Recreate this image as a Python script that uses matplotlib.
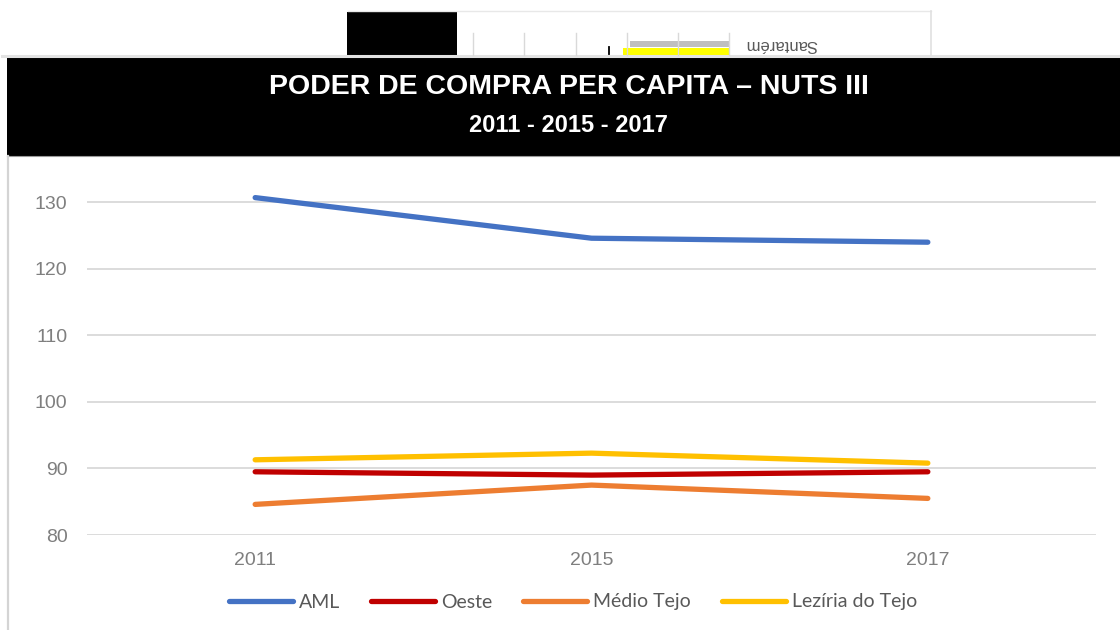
import matplotlib
matplotlib.use("Agg")
import matplotlib.pyplot as plt
from matplotlib.patches import Rectangle
from matplotlib.lines import Line2D

# dados
anos = ["2011", "2015", "2017"]
aml = [130.7, 124.6, 124.0]
oeste = [89.5, 89.0, 89.5]
medio_tejo = [84.6, 87.5, 85.5]
leziria = [91.3, 92.3, 90.8]
series = ["AML", "Oeste", "Médio Tejo", "Lezíria do Tejo"]
cores = ["#4472C4", "#C00000", "#ED7D31", "#FFC000"]
yticks = [80, 90, 100, 110, 120, 130]

W, H = 1120, 630
fig = plt.figure(figsize=(W / 100, H / 100), dpi=100)
fig.patch.set_facecolor("white")

# camada de fundo em pixeis (faixa do titulo, restos do print)
bg = fig.add_axes([0, 0, 1, 1], zorder=0)
bg.set_xlim(0, W)
bg.set_ylim(H, 0)
bg.axis("off")

bg.add_patch(Rectangle((7, 57.5), W - 7, 98, facecolor="black", edgecolor="none"))
bg.add_line(Line2D([2, W], [55.5, 55.5], color="#e3e3e3", lw=2.2))
bg.add_line(Line2D([7, W], [156, 156], color="#9a9a9a", lw=0.8))
bg.add_line(Line2D([8, 8], [156, H], color="#d4d4d4", lw=1.6))

# restos do grafico de barras de cima
bg.add_line(Line2D([348, 931], [11, 11], color="#e8e8e8", lw=1))
bg.add_line(Line2D([931, 931], [11, 55], color="#e0e0e0", lw=1.2))
bg.add_patch(Rectangle((347, 11.5), 110, 43, facecolor="black", edgecolor="none"))
for gx in [473, 524, 576, 627, 678, 729]:
    bg.add_line(Line2D([gx, gx], [33, 55], color="#d9d9d9", lw=1))
bg.add_line(Line2D([609, 609], [47, 54], color="black", lw=1.3))
bg.add_patch(Rectangle((630, 41), 99, 6, facecolor="#bfbfbf", edgecolor="none"))
bg.add_patch(Rectangle((623, 48), 106, 7, facecolor="#ffff00", edgecolor="none"))
bg.text(781, 45, "Santarém", rotation=180, ha="center", va="center",
        fontsize=12, color="#595959", family="Liberation Sans")

fig.text(569 / W, (H - 87) / H, "PODER DE COMPRA PER CAPITA – NUTS III",
         ha="center", va="center", color="white", fontsize=20.5,
         fontweight="bold", family="Liberation Sans")
fig.text(568 / W, (H - 126) / H, "2011 - 2015 - 2017",
         ha="center", va="center", color="white", fontsize=17,
         fontweight="bold", family="Liberation Sans")

# grafico de linhas
ax = fig.add_axes([87 / W, (H - 535) / H, 1009 / W, (535 - 169) / H], zorder=1)
ax.patch.set_alpha(0)
x = range(len(anos))
for vals, nome, cor in zip([aml, oeste, medio_tejo, leziria], series, cores):
    ax.plot(x, vals, color=cor, lw=3.8, solid_capstyle="round",
            solid_joinstyle="round", label=nome, clip_on=False)

ax.set_xlim(-0.5, 2.5)
ax.set_ylim(80, 135)
ax.set_yticks(yticks)
ax.set_xticks(list(x))
ax.set_xticklabels(anos)
ax.grid(axis="y", color="#d9d9d9", lw=1.3)
ax.set_axisbelow(True)
for s in ax.spines.values():
    s.set_visible(False)
ax.tick_params(length=0, labelsize=14, labelcolor="#7f7f7f", pad=14)
ax.tick_params(axis="x", pad=12)
for lab in ax.get_xticklabels() + ax.get_yticklabels():
    lab.set_family("Liberation Sans")

fig.legend(loc="center", bbox_to_anchor=(573 / W, (H - 602) / H), ncol=4,
           frameon=False, prop={"family": "Lato", "size": 14},
           labelcolor="#595959", handlelength=3.3, handletextpad=0.3,
           columnspacing=1.6)

fig.savefig("out.png", dpi=100, facecolor="white")
